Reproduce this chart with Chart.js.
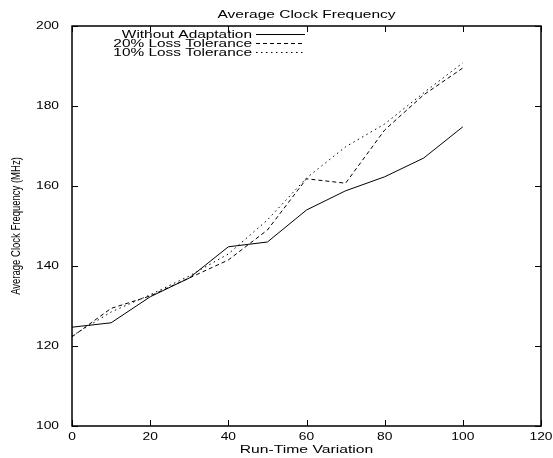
<!DOCTYPE html>
<html>
<head>
<meta charset="utf-8">
<script src="https://cdn.jsdelivr.net/npm/chart.js@4"></script>
<style>
  html, body { margin: 0; padding: 0; background: #fff; }
  #wrap { width: 553px; height: 458px; }
</style>
</head>
<body>
<div id="wrap"><canvas id="chart" width="553" height="458"></canvas></div>
<script>
const runTimeVariation = [0, 10, 20, 30, 40, 50, 60, 70, 80, 90, 100];
const withoutAdaptation = [124.7, 125.8, 132.3, 137, 144.8, 146, 154, 158.8, 162.3, 167, 174.8];
const loss20 = [122.3, 129.4, 132.5, 137, 141.5, 149, 161.8, 160.7, 174, 182.8, 189.5];
const loss10 = [122.5, 128.5, 132.8, 137.5, 143, 151.5, 162, 169.8, 175.5, 183.3, 190.8];
const seriesNames = ['Without Adaptation', '20% Loss Tolerance', '10% Loss Tolerance'];
const xTicks = [0, 20, 40, 60, 80, 100, 120];
const yTicks = [100, 120, 140, 160, 180, 200];
const chartTitle = 'Average Clock Frequency';
const xTitle = 'Run-Time Variation';
const yTitle = 'Average Clock Frequency (MHz)';

const FONT = "'Liberation Sans', Arial, sans-serif";

function points(values) {
  return values.map((y, i) => ({ x: runTimeVariation[i], y }));
}

function line(label, values, dash) {
  return {
    label,
    data: points(values),
    borderColor: '#000',
    borderWidth: 1,
    borderDash: dash,
    pointRadius: 0,
    tension: 0,
    fill: false,
  };
}

// gnuplot postscript text comes out wide, so stretch it sideways
function wideText(ctx, text, x, y, align, sx) {
  ctx.save();
  ctx.translate(x, y);
  ctx.scale(sx, 1);
  ctx.textAlign = align;
  ctx.fillText(text, 0, 0);
  ctx.restore();
}

const gnuplotFrame = {
  id: 'gnuplotFrame',
  afterDraw(chart) {
    const { ctx, chartArea: a, scales } = chart;
    ctx.save();
    ctx.strokeStyle = '#000';
    ctx.fillStyle = '#000';
    ctx.lineWidth = 1.5;
    ctx.strokeRect(a.left, a.top, a.right - a.left, a.bottom - a.top);

    // inward tick marks on all four sides
    ctx.lineWidth = 1;
    ctx.beginPath();
    scales.x.ticks.forEach((t) => {
      const px = Math.round(scales.x.getPixelForValue(t.value)) + 0.5;
      ctx.moveTo(px, a.bottom); ctx.lineTo(px, a.bottom - 6);
      ctx.moveTo(px, a.top); ctx.lineTo(px, a.top + 6);
    });
    scales.y.ticks.forEach((t) => {
      const py = Math.round(scales.y.getPixelForValue(t.value)) + 0.5;
      ctx.moveTo(a.left, py); ctx.lineTo(a.left + 6, py);
      ctx.moveTo(a.right, py); ctx.lineTo(a.right - 6, py);
    });
    ctx.stroke();

    ctx.font = `10px ${FONT}`;
    ctx.textBaseline = 'alphabetic';
    scales.x.ticks.forEach((t) => {
      wideText(ctx, String(t.value), scales.x.getPixelForValue(t.value), 440, 'center', 1.38);
    });
    ctx.textBaseline = 'middle';
    scales.y.ticks.forEach((t) => {
      wideText(ctx, String(t.value), 59, scales.y.getPixelForValue(t.value), 'right', 1.38);
    });

    ctx.textBaseline = 'alphabetic';
    wideText(ctx, chartTitle, (a.left + a.right) / 2, 17.5, 'center', 1.55);
    wideText(ctx, xTitle, (a.left + a.right) / 2, 452.5, 'center', 1.57);

    // rotated y title
    ctx.save();
    ctx.translate(17, (a.top + a.bottom) / 2);
    ctx.rotate(-Math.PI / 2);
    ctx.scale(1, 1.25);
    ctx.font = `9.5px ${FONT}`;
    ctx.textAlign = 'center';
    ctx.textBaseline = 'middle';
    ctx.fillText(yTitle, 0, 0);
    ctx.restore();

    // key
    chart.data.datasets.forEach((ds, i) => {
      const base = 38 + i * 9;
      wideText(ctx, seriesNames[i], 252, base, 'right', 1.54);
      ctx.setLineDash(ds.borderDash || []);
      ctx.beginPath();
      ctx.moveTo(256, Math.round(base - 4) + 0.5);
      ctx.lineTo(305, Math.round(base - 4) + 0.5);
      ctx.stroke();
    });
    ctx.restore();
  },
};

new Chart(document.getElementById('chart'), {
  type: 'line',
  data: {
    datasets: [
      line(seriesNames[0], withoutAdaptation, []),
      line(seriesNames[1], loss20, [4, 3]),
      line(seriesNames[2], loss10, [1.5, 3.5]),
    ],
  },
  options: {
    responsive: false,
    animation: false,
    layout: { padding: { top: 26, right: 12, left: 0, bottom: 0 } },
    plugins: { legend: { display: false }, tooltip: { enabled: false } },
    scales: {
      x: {
        type: 'linear',
        min: 0,
        max: 120,
        afterBuildTicks: (s) => { s.ticks = xTicks.map((v) => ({ value: v })); },
        afterFit: (s) => { s.height = 32; },
        grid: { display: false, drawTicks: false },
        border: { display: false },
        ticks: { display: false },
      },
      y: {
        min: 100,
        max: 200,
        afterBuildTicks: (s) => { s.ticks = yTicks.map((v) => ({ value: v })); },
        afterFit: (s) => { s.width = 72; },
        grid: { display: false, drawTicks: false },
        border: { display: false },
        ticks: { display: false },
      },
    },
  },
  plugins: [gnuplotFrame],
});
</script>
</body>
</html>
